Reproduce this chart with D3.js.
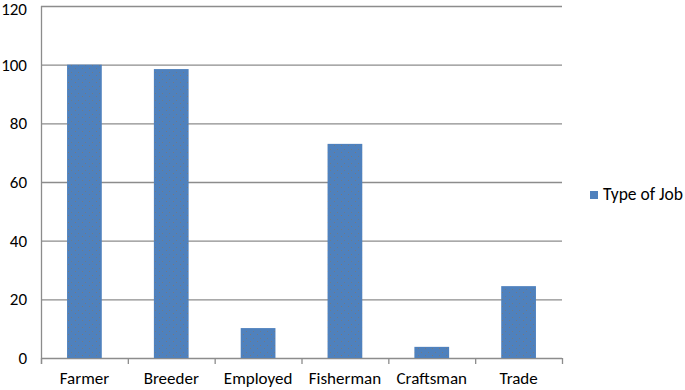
<!DOCTYPE html>
<html>
<head>
<meta charset="utf-8">
<script src="https://cdn.jsdelivr.net/npm/d3@7"></script>
<style>
  body { margin: 0; background: #fff; }
  text { font-family: Carlito, "Liberation Sans", "Open Sans", sans-serif; fill: #000; }
</style>
</head>
<body>
<div id="chart"></div>
<script>
const categories = ['Farmer', 'Breeder', 'Employed', 'Fisherman', 'Craftsman', 'Trade'];
const values = [100, 98.5, 10.2, 73, 3.8, 24.5];
const yTicks = [0, 20, 40, 60, 80, 100, 120];
const seriesName = 'Type of Job';

const width = 685, height = 390;
const margin = { top: 6, right: 123, bottom: 32, left: 41 };

const svg = d3.select('#chart').append('svg')
  .attr('width', width)
  .attr('height', height);

// dotted texture like the original
const defs = svg.append('defs');
const pat = defs.append('pattern')
  .attr('id', 'dots')
  .attr('patternUnits', 'userSpaceOnUse')
  .attr('width', 7).attr('height', 7);
pat.append('rect').attr('width', 7).attr('height', 7).attr('fill', '#4f81bd');
pat.append('rect').attr('x', 1).attr('y', 2).attr('width', 1).attr('height', 1).attr('fill', '#6f7a86');
pat.append('rect').attr('x', 5).attr('y', 5).attr('width', 1).attr('height', 1).attr('fill', '#75797f');

const x = d3.scaleBand()
  .domain(categories)
  .range([margin.left, width - margin.right])
  .paddingInner(0.6)
  .paddingOuter(0.3);

const y = d3.scaleLinear()
  .domain([0, 120])
  .range([height - margin.bottom, margin.top]);

// gridlines
svg.append('g')
  .selectAll('line')
  .data(yTicks)
  .join('line')
  .attr('x1', margin.left)
  .attr('x2', width - margin.right)
  .attr('y1', d => y(d) + 0.5)
  .attr('y2', d => y(d) + 0.5)
  .attr('stroke', '#8c8c8c')
  .attr('stroke-width', 1.3);

// y axis line
svg.append('line')
  .attr('x1', margin.left + 0.5).attr('x2', margin.left + 0.5)
  .attr('y1', y(120)).attr('y2', y(0) + 6)
  .attr('stroke', '#8c8c8c').attr('stroke-width', 1.3);

// y labels (top one pushed down so it stays inside the page)
svg.append('g')
  .selectAll('text')
  .data(yTicks)
  .join('text')
  .attr('x', 27)
  .attr('y', d => Math.max(y(d) + 6, 15))
  .attr('text-anchor', 'end')
  .style('font-size', '17px')
  .text(d => d);

// bars
svg.append('g')
  .selectAll('rect')
  .data(values)
  .join('rect')
  .attr('x', (d, i) => x(categories[i]))
  .attr('width', x.bandwidth())
  .attr('y', d => y(d))
  .attr('height', d => y(0) - y(d))
  .attr('fill', 'url(#dots)');

// x ticks at category boundaries
const bounds = d3.range(categories.length + 1).map(i => margin.left + i * ((width - margin.right - margin.left) / categories.length));
svg.append('g')
  .selectAll('line')
  .data(bounds)
  .join('line')
  .attr('x1', d => d + 0.5).attr('x2', d => d + 0.5)
  .attr('y1', y(0)).attr('y2', y(0) + 6)
  .attr('stroke', '#8c8c8c').attr('stroke-width', 1.3);

// x labels
svg.append('g')
  .selectAll('text')
  .data(categories)
  .join('text')
  .attr('x', d => x(d) + x.bandwidth() / 2)
  .attr('y', 384)
  .attr('text-anchor', 'middle')
  .style('font-size', '17px')
  .text(d => d);

// legend
svg.append('rect')
  .attr('x', 590).attr('y', 191)
  .attr('width', 8).attr('height', 8)
  .attr('fill', '#4f81bd');
svg.append('text')
  .attr('x', 603).attr('y', 200)
  .style('font-size', '17.5px')
  .text(seriesName);
</script>
</body>
</html>
